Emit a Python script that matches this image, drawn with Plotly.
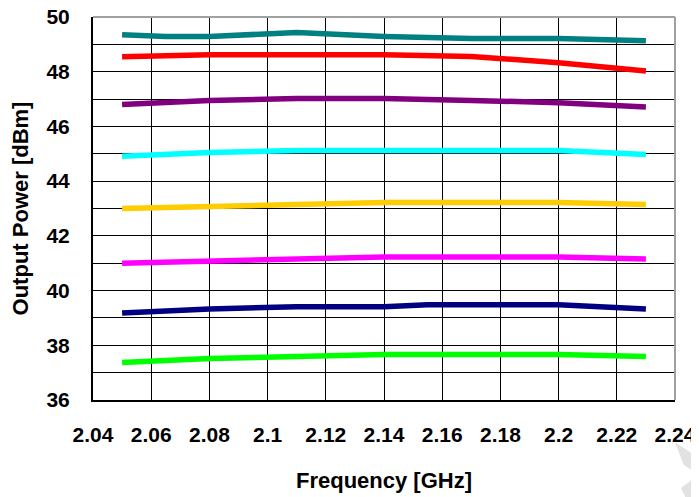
import plotly.graph_objects as go

# ---- data ----
freq = [2.05, 2.08, 2.11, 2.14, 2.17, 2.20, 2.23]
freq_teal = [2.05, 2.065, 2.08, 2.11, 2.14, 2.17, 2.20, 2.23]
freq_navy = [2.05, 2.08, 2.11, 2.14, 2.155, 2.17, 2.20, 2.23]

p_teal = [49.35, 49.29, 49.29, 49.43, 49.29, 49.21, 49.21, 49.13]
p_red = [48.55, 48.62, 48.62, 48.62, 48.56, 48.33, 48.03]
p_purple = [46.80, 46.95, 47.02, 47.02, 46.95, 46.87, 46.71]
p_cyan = [44.91, 45.05, 45.12, 45.12, 45.12, 45.12, 44.97]
p_yellow = [43.00, 43.07, 43.15, 43.22, 43.22, 43.22, 43.15]
p_magenta = [41.00, 41.07, 41.15, 41.23, 41.23, 41.23, 41.15]
p_navy = [39.18, 39.33, 39.41, 39.41, 39.48, 39.48, 39.48, 39.33]
p_green = [37.37, 37.52, 37.59, 37.66, 37.66, 37.66, 37.59]

x_ticks = [2.04, 2.06, 2.08, 2.10, 2.12, 2.14, 2.16, 2.18, 2.20, 2.22, 2.24]
x_ticktext = ["2.04", "2.06", "2.08", "2.1", "2.12", "2.14", "2.16", "2.18", "2.2", "2.22", "2.24"]
y_ticks = [36, 38, 40, 42, 44, 46, 48, 50]

series = [
    (freq_teal, p_teal, "#008080"),
    (freq, p_red, "#FF0000"),
    (freq, p_purple, "#800080"),
    (freq, p_cyan, "#00FFFF"),
    (freq, p_yellow, "#FFCC00"),
    (freq, p_magenta, "#FF00FF"),
    (freq_navy, p_navy, "#000080"),
    (freq, p_green, "#00FF00"),
]

fig = go.Figure()
for xs, ys, col in series:
    fig.add_trace(go.Scatter(x=xs, y=ys, mode="lines",
                             line=dict(color=col, width=5.5),
                             showlegend=False, hoverinfo="skip"))

font = "Liberation Sans, Arial, sans-serif"
# the page body adds an 8px offset, so the figure is 8px smaller and margins shifted
fig.update_layout(
    width=691, height=489,
    margin=dict(l=85, r=24, t=9, b=97),
    paper_bgcolor="white", plot_bgcolor="white",
    font=dict(family=font, color="black"),
    xaxis=dict(
        range=[2.04, 2.24], tickmode="array", tickvals=x_ticks, ticktext=x_ticktext,
        showgrid=True, gridcolor="black", gridwidth=1,
        showline=True, linecolor="black", linewidth=2,
        ticks="", ticklabelstandoff=15, automargin=False, ticklabeloverflow="allow",
        tickfont=dict(size=21, family=font, weight="bold"),
        title=dict(text="<b>Frequency [GHz]</b>", font=dict(size=22, family=font), standoff=27),
        zeroline=False,
    ),
    yaxis=dict(
        range=[36, 50], tickmode="array", tickvals=y_ticks,
        showgrid=True, gridcolor="black", gridwidth=1,
        minor=dict(dtick=1, tick0=36, showgrid=True, gridcolor="black", gridwidth=1),
        showline=True, linecolor="black", linewidth=2,
        ticks="", ticklabelstandoff=17, automargin=False, ticklabeloverflow="allow",
        tickfont=dict(size=21, family=font, weight="bold"),
        title=dict(text="<b>Output Power [dBm]</b>", font=dict(size=22, family=font), standoff=16),
        zeroline=False,
    ),
    shapes=[
        dict(type="line", xref="paper", yref="paper", x0=0, x1=1, y0=1, y1=1,
             line=dict(color="#a0a0a0", width=2)),
        dict(type="line", xref="paper", yref="paper", x0=1, x1=1, y0=0, y1=1,
             line=dict(color="#a0a0a0", width=2)),
        # faint watermark fragments in the bottom-right corner
        dict(type="path", xref="paper", yref="paper", layer="below",
             path="M 1.0 -0.11 L 1.03 -0.14 L 1.047 -0.2 L 1.015 -0.17 Z",
             fillcolor="#e2e2e2", line=dict(width=0)),
        dict(type="path", xref="paper", yref="paper", layer="below",
             path="M 1.01 -0.23 L 1.045 -0.19 L 1.045 -0.26 L 1.02 -0.26 Z",
             fillcolor="#e2e2e2", line=dict(width=0)),
    ],
)

fig.write_html("out.html")
